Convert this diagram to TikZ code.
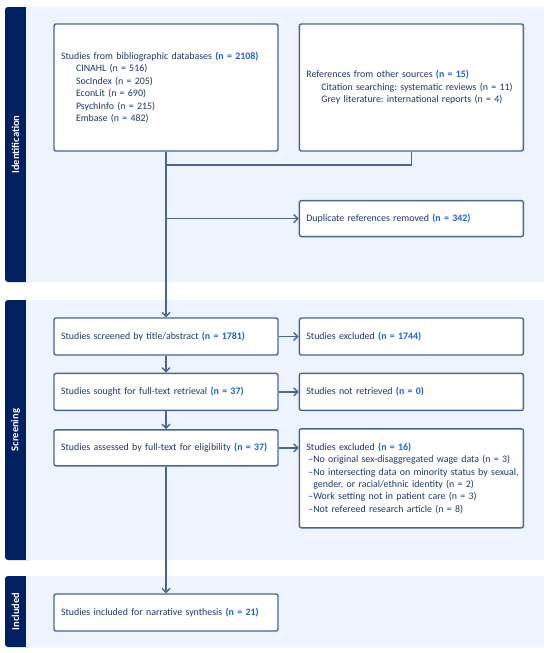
\documentclass[tikz,border=0pt]{standalone}
\usepackage{fontspec}
\setmainfont{Carlito}
\usetikzlibrary{positioning,arrows.meta}

\definecolor{barblue}{HTML}{002060}
\definecolor{panelbg}{HTML}{EEF4FD}
\definecolor{boxline}{HTML}{4A6590}
\definecolor{txtblue}{HTML}{1F3864}
\definecolor{numblue}{HTML}{1F5FD3}

\newcommand{\cnt}[1]{\textcolor{numblue}{\textbf{(n = #1)}}}
\newcommand{\sub}{\\\hspace*{15pt}}

\tikzset{
  box/.style={draw=boxline, line width=1.4pt, rounded corners=2pt, fill=white,
    text width=210pt, inner xsep=7pt, inner ysep=4pt, align=left,
    minimum height=37pt, text=txtblue,
    font=\fontsize{9.9}{12.4}\selectfont\frenchspacing},
  link/.style={draw=boxline, line width=1.4pt},
  arrow/.style={link, -{Straight Barb[length=4pt,width=8pt]}},
  phase/.style={rotate=90, text=white, font=\fontsize{10.5}{12}\selectfont\bfseries}
}

\begin{document}
\begin{tikzpicture}[x=1pt,y=-1pt]
\useasboundingbox (0,0) rectangle (550,653);

% phase panels
\fill[barblue, rounded corners=3pt] (5,7) rectangle (32,282);
\fill[panelbg] (26,7) rectangle (544,282);
\fill[barblue, rounded corners=3pt] (5,300) rectangle (32,560);
\fill[panelbg] (26,300) rectangle (544,560);
\fill[barblue, rounded corners=3pt] (5,576) rectangle (32,647);
\fill[panelbg] (26,576) rectangle (544,647);
\node[phase] (identification) at (15.5,144.5) {Identification};
\node[phase] (screening) at (15.5,430) {Screening};
\node[phase] (included) at (15.5,611.5) {Included};

% boxes
\node[box, minimum height=127pt] (db) at (166,87.5)
  {Studies from bibliographic databases \cnt{2108}\sub CINAHL (n = 516)\sub SocIndex (n = 205)\sub EconLit (n = 690)\sub PsychInfo (n = 215)\sub Embase (n = 482)};
\node[box, minimum height=127pt] (others) [right=20pt of db]
  {References from other sources \cnt{15}\sub Citation searching: systematic reviews (n = 11)\sub Grey literature: international reports (n = 4)};
\node[box] (screened) at (166,336.5) {Studies screened by title/abstract \cnt{1781}};
\node[box] (excluded) [right=20pt of screened] {Studies excluded \cnt{1744}};
\node[box, minimum height=36pt] (duplicates) [above=80pt of excluded] {Duplicate references removed \cnt{342}};
\node[box] (sought) [below=17pt of screened] {Studies sought for full-text retrieval \cnt{37}};
\node[box] (notretrieved) [right=20pt of sought] {Studies not retrieved \cnt{0}};
\node[box, minimum height=36pt] (assessed) [below=18pt of sought] {Studies assessed by full-text for eligibility \cnt{37}};
\node[box, minimum height=99pt] (excludedft) [below=17pt of notretrieved]
  {Studies excluded \cnt{16}\\
   \hspace*{2pt}–No original sex-disaggregated wage data (n = 3)\\
   \hspace*{2pt}\mbox{–No intersecting data on minority status by sexual,}\\
   \hspace*{7pt}gender, or racial/ethnic identity (n = 2)\\
   \hspace*{2pt}–Work setting not in patient care (n = 3)\\
   \hspace*{2pt}–Not refereed research article (n = 8)};
\node[box] (synthesis) at (166,612.5) {Studies included for narrative synthesis \cnt{21}};

% connectors
\coordinate (merge) at (166,165);
\draw[link] (others.south) |- (merge);
\draw[arrow] (db.south) -- (screened.north);
\draw[arrow] (db.south |- duplicates.west) -- (duplicates.west);
\draw[arrow] (screened.east) -- (excluded.west);
\draw[arrow] (sought.east) -- (notretrieved.west);
\draw[arrow] (screened.south) -- (sought.north);
\draw[arrow] (sought.south) -- (assessed.north);
\draw[arrow] (assessed.east) -- (assessed.east -| excludedft.west);
\draw[arrow] (assessed.south) -- (synthesis.north);
\end{tikzpicture}
\end{document}
